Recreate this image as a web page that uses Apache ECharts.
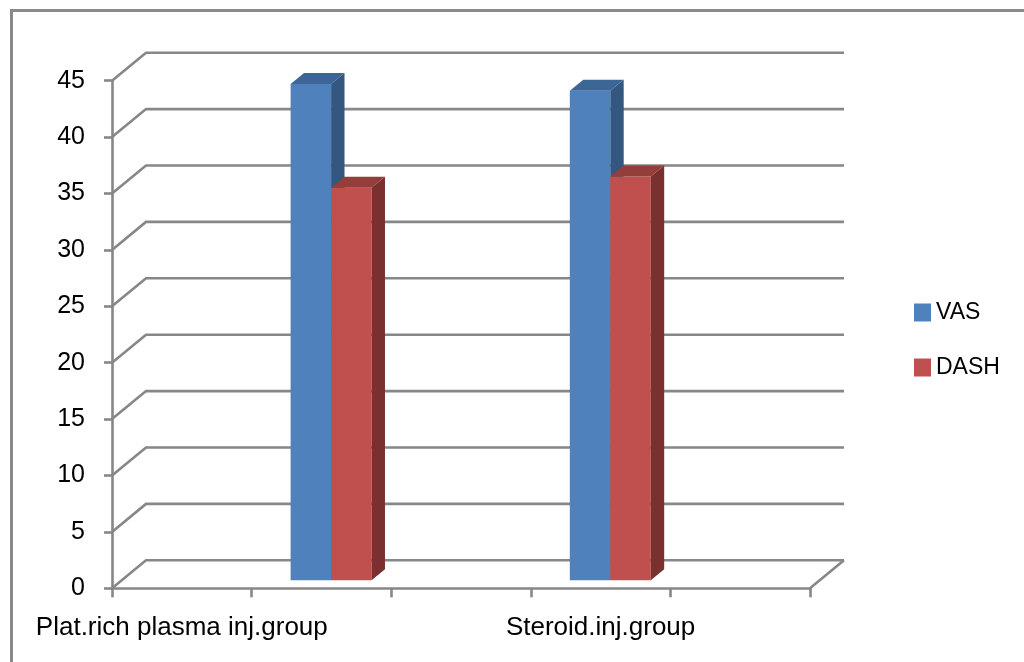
<!DOCTYPE html>
<html>
<head>
<meta charset="utf-8">
<script src="https://cdn.jsdelivr.net/npm/echarts@6/dist/echarts.min.js"></script>
<style>
html,body{margin:0;padding:0;background:#fff;}
#chart{width:1024px;height:662px;}
</style>
</head>
<body>
<div id="chart"></div>
<script>
// ---- data ----
var categories = ["Plat.rich plasma inj.group", "", "", "Steroid.inj.group", ""];
var seriesNames = ["VAS", "DASH"];
var vasValues = [null, 44, null, 43.4, null];
var dashValues = [null, 34.8, null, 35.8, null];
var yTicks = [0, 5, 10, 15, 20, 25, 30, 35, 40, 45];

// ---- styles ----
var FONT = "'Liberation Sans', Arial, sans-serif";
var GRID_COLOR = '#878787';
var DX = 34, DY = 28;          // back-wall offset of the 3D box
var BAR_OX = 9.7, BAR_OY = 8;  // bar placement depth
var BAR_DX = 13.4, BAR_DY = 11; // bar depth
var colors = {
  VAS: { front: '#4f81bd', top: '#3c6696', side: '#34577f' },
  DASH: { front: '#c0504d', top: '#943e3c', side: '#7a302e' }
};

function toData(arr) {
  var out = [];
  arr.forEach(function (v, i) { if (v !== null) out.push([i, v]); });
  return out;
}

function wallRender(params, api) {
  var v = api.value(1);
  var p = api.coord([0, v]);
  var band = api.size([1, 0])[0];
  var lx = p[0] - band / 2;
  var rx = lx + band * categories.length;
  var children = [{
    type: 'polyline',
    shape: { points: [[lx, p[1]], [lx + DX, p[1] - DY], [rx + DX, p[1] - DY]] },
    style: { stroke: GRID_COLOR, lineWidth: 2.6, fill: null }
  }];
  if (v === 0) {
    children.push({
      type: 'line',
      shape: { x1: rx, y1: p[1], x2: rx + DX, y2: p[1] - DY },
      style: { stroke: GRID_COLOR, lineWidth: 2.6 }
    });
  }
  return { type: 'group', children: children };
}

function barRender(k, c) {
  return function (params, api) {
    var i = api.value(0), v = api.value(1);
    var base = api.coord([i, 0]);
    var top = api.coord([i, v]);
    var band = api.size([1, 0])[0];
    var w = band * 0.29;
    var x0 = base[0] + BAR_OX + (k - 1) * w;
    var x1 = x0 + w;
    var yb = base[1] - BAR_OY;
    var yt = top[1] - BAR_OY;
    return {
      type: 'group',
      children: [
        { type: 'rect', shape: { x: x0, y: yt, width: w, height: yb - yt }, style: { fill: c.front } },
        { type: 'polygon', shape: { points: [[x0, yt], [x1, yt], [x1 + BAR_DX, yt - BAR_DY], [x0 + BAR_DX, yt - BAR_DY]] }, style: { fill: c.top } },
        { type: 'polygon', shape: { points: [[x1, yt], [x1 + BAR_DX, yt - BAR_DY], [x1 + BAR_DX, yb - BAR_DY], [x1, yb]] }, style: { fill: c.side } }
      ]
    };
  };
}

var chart = echarts.init(document.getElementById('chart'), null, { renderer: 'canvas' });
chart.setOption({
  backgroundColor: '#ffffff',
  animation: false,
  graphic: [
    { type: 'line', shape: { x1: 11, y1: 10.5, x2: 1024, y2: 10.5 }, style: { stroke: '#8a8a8a', lineWidth: 3 } },
    { type: 'line', shape: { x1: 11.5, y1: 9, x2: 11.5, y2: 662 }, style: { stroke: '#8a8a8a', lineWidth: 3 } }
  ],
  legend: {
    orient: 'vertical',
    left: 909,
    top: 296,
    data: seriesNames,
    icon: 'rect',
    itemWidth: 17,
    itemHeight: 18,
    itemGap: 32,
    textStyle: { fontFamily: FONT, fontSize: 23, color: '#000' }
  },
  grid: { left: 112, right: 214, top: 80.7, bottom: 73.7 },
  xAxis: {
    type: 'category',
    data: categories,
    boundaryGap: true,
    axisLine: { lineStyle: { color: GRID_COLOR, width: 2.6 } },
    axisTick: { show: true, length: 9, alignWithLabel: false, interval: 0, lineStyle: { color: GRID_COLOR, width: 2.6 } },
    axisLabel: { interval: 0, margin: 27, fontFamily: FONT, fontSize: 26, color: '#000' },
    splitLine: { show: false }
  },
  yAxis: {
    type: 'value',
    min: 0, max: 45, interval: 5,
    axisLine: { show: true, lineStyle: { color: GRID_COLOR, width: 2.6 } },
    axisTick: { show: true, length: 8, lineStyle: { color: GRID_COLOR, width: 2.6 } },
    axisLabel: { margin: 27, fontFamily: FONT, fontSize: 25, color: '#000' },
    splitLine: { show: false }
  },
  series: [
    {
      type: 'custom', name: 'walls', silent: true, z: 1,
      data: yTicks.map(function (t) { return [0, t]; }),
      renderItem: wallRender
    },
    {
      type: 'custom', name: 'VAS', z: 3,
      itemStyle: { color: colors.VAS.front },
      data: toData(vasValues),
      renderItem: barRender(0, colors.VAS)
    },
    {
      type: 'custom', name: 'DASH', z: 4,
      itemStyle: { color: colors.DASH.front },
      data: toData(dashValues),
      renderItem: barRender(1, colors.DASH)
    }
  ]
});
</script>
</body>
</html>
